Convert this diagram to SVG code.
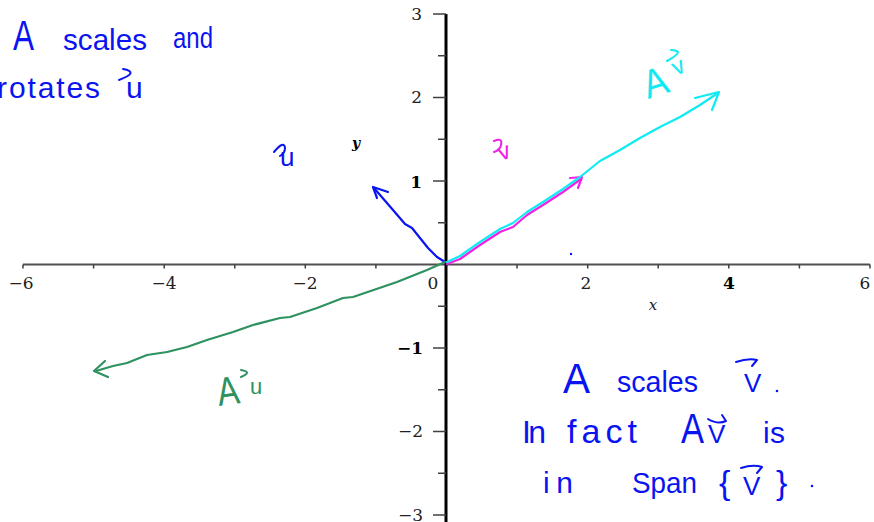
<svg xmlns="http://www.w3.org/2000/svg" width="874" height="522" viewBox="0 0 874 522">
<style>
.bg{fill:#ffffff}
.xaxis{stroke:#505050;stroke-width:2;fill:none}
.yaxis{stroke:#000000;stroke-width:3;fill:none}
.tick{stroke:#404040;stroke-width:1.5;fill:none}
.tl{font-family:"DejaVu Serif","Liberation Serif",serif;font-size:17px;fill:#202020}
.tlb{font-family:"DejaVu Serif","Liberation Serif",serif;font-size:17px;font-weight:bold;fill:#000}
.ax{font-family:"DejaVu Serif","Liberation Serif",serif;font-style:italic;font-size:15px;fill:#202020}
.vec{fill:none;stroke-width:2.2;stroke-linecap:round;stroke-linejoin:round}
.blue{stroke:#0a14f0}
.mag{stroke:#f020e6}
.cyan{stroke:#10eaf2}
.green{stroke:#2e9160}
.hw{font-family:"Liberation Sans","DejaVu Sans",sans-serif;font-weight:normal}
.hb{fill:#0a14f0}
.hc{fill:#10eaf2}
.hm{fill:#f020e6}
.hg{fill:#2e9160}
.hook{fill:none;stroke-width:2;stroke-linecap:round;stroke-linejoin:round}
</style>
<rect class="bg" x="0" y="0" width="874" height="522"/>
<g id="axes">
  <line class="xaxis" x1="23" y1="264.5" x2="870" y2="264.5"/>
  <line class="yaxis" x1="446" y1="14" x2="446" y2="522"/>
  <path class="tick" d="M23,264.5v4 M93.6,264.5v4 M164.2,264.5v4 M234.8,264.5v4 M305.3,264.5v4 M375.9,264.5v4 M517,264.5v4 M587.7,264.5v4 M658.2,264.5v4 M728.8,264.5v4 M799.4,264.5v4 M870,264.5v4"/>
  <path class="tick" d="M433,14h13 M438,55.75h8 M433,97.5h13 M438,139.25h8 M433,181h13 M438,222.75h8 M438,306.25h8 M433,348h13 M438,389.75h8 M433,431.5h13 M438,473.25h8 M433,515h13"/>
  <text class="tl" x="21" y="289" text-anchor="middle">−6</text>
  <text class="tl" x="164" y="289" text-anchor="middle">−4</text>
  <text class="tl" x="305" y="289" text-anchor="middle">−2</text>
  <text class="tl" x="433" y="289" text-anchor="middle">0</text>
  <text class="tl" x="586" y="289" text-anchor="middle">2</text>
  <text class="tlb" x="729" y="289" text-anchor="middle">4</text>
  <text class="tl" x="865" y="289" text-anchor="middle">6</text>
  <text class="ax" x="653" y="310" text-anchor="middle">x</text>
  <text class="tl" x="422" y="20" text-anchor="end">3</text>
  <text class="tl" x="422" y="103" text-anchor="end">2</text>
  <text class="tlb" x="422" y="188" text-anchor="end">1</text>
  <text class="tlb" x="423" y="354" text-anchor="end">−1</text>
  <text class="tl" x="423" y="437" text-anchor="end">−2</text>
  <text class="tl" x="423" y="521" text-anchor="end">−3</text>
  <text x="352" y="148" style="font-family:'DejaVu Serif',serif;font-style:italic;font-weight:bold;font-size:14px;fill:#000">y</text>
</g>
<g id="connectors">
  <g id="vec-u">
    <path class="vec blue" d="M445,262 L437,257 L428,248 L412,228 L405,224 L393,210 L374,188"/>
    <path class="vec blue" d="M388,192 L373,187 L377,198"/>
  </g>
  <g id="vec-v">
    <path class="vec mag" d="M447,264 L460,259 L480,245 L500,232 L513,227 L527,215 L543,205 L563,192 L581,179"/>
    <path class="vec mag" d="M570,178 L582,177 L578,188"/>
  </g>
  <g id="vec-Av">
    <path class="vec cyan" d="M447,262 L460,256 L480,242 L500,229 L513,223 L527,212 L543,202 L563,189 L580,177 L600,161 L620,150 L640,138 L660,127 L680,117 L700,105 L718,93"/>
    <path class="vec cyan" d="M695,98 L719,92 L712,110"/>
  </g>
  <g id="vec-Au">
    <path class="vec green" d="M445,262 L427,270 L397,282 L353,297 L343,298 L317,308 L290,317 L280,318 L253,325 L233,332 L207,340 L187,347 L167,352 L147,355 L127,363 L113,366 L96,371"/>
    <path class="vec green" d="M105,361 L94,371 L108,377"/>
  </g>
</g>
<g id="label-topleft">
  <text class="hw hb" x="13" y="50" font-size="42" textLength="21" lengthAdjust="spacingAndGlyphs">A</text>
  <text class="hw hb" x="63" y="50" font-size="30" textLength="84" lengthAdjust="spacingAndGlyphs">scales</text>
  <text class="hw hb" x="173" y="48" font-size="30" textLength="40" lengthAdjust="spacingAndGlyphs">and</text>
  <text class="hw hb" x="-3" y="98" font-size="30" textLength="103" lengthAdjust="spacing">rotates</text>
  <text class="hw hb" x="126" y="98" font-size="30">u</text>
  <path class="hook blue" d="M123,69 Q140,72 119,80"/>
</g>
<g id="label-u">
  <text class="hw hb" x="280" y="166" font-size="26">u</text>
  <path class="hook blue" d="M274,152 Q284,140 285,148 Q285,153 280,156"/>
</g>
<g id="label-v">
  <text class="hw hm" x="0" y="0" font-size="24" transform="translate(501,161) rotate(-20)">v</text>
  <path class="hook mag" d="M494,141 Q503,137 501,145 Q500,150 494,152"/>
</g>
<g id="label-Av">
  <text class="hw hc" x="0" y="0" font-size="40" textLength="24" lengthAdjust="spacingAndGlyphs" transform="translate(648,99) rotate(-18)">A</text>
  <text class="hw hc" x="0" y="0" font-size="24" transform="translate(676,76) rotate(-25)">v</text>
  <path class="hook cyan" d="M667,61 Q678,55 678,52 Q676,50 671,50"/>
</g>
<g id="label-Au">
  <text class="hw hg" x="0" y="0" font-size="40" textLength="22" lengthAdjust="spacingAndGlyphs" transform="translate(219,406) rotate(-8)">A</text>
  <text class="hw hg" x="250" y="394" font-size="22">u</text>
  <path class="hook green" d="M241,370 Q253,372 241,377"/>
</g>
<g id="label-bottomright">
  <text class="hw hb" x="563" y="393" font-size="42" textLength="27" lengthAdjust="spacingAndGlyphs">A</text>
  <text class="hw hb" x="617" y="392" font-size="30" textLength="81" lengthAdjust="spacingAndGlyphs">scales</text>
  <text class="hw hb" x="744" y="392" font-size="26">V</text>
  <path class="hook blue" d="M736,362 Q748,358 757,360 L752,366"/>
  <circle cx="777" cy="391" r="1.3" fill="#0a14f0"/>
  <text class="hw hb" x="522" y="443" font-size="32" textLength="24" lengthAdjust="spacing">In</text>
  <text class="hw hb" x="567" y="443" font-size="34" textLength="70" lengthAdjust="spacing">fact</text>
  <text class="hw hb" x="681" y="443" font-size="42" textLength="23" lengthAdjust="spacingAndGlyphs">A</text>
  <text class="hw hb" x="708" y="443" font-size="26">V</text>
  <path class="hook blue" d="M708,419 Q718,425 726,421 L722,415"/>
  <text class="hw hb" x="763" y="443" font-size="30" textLength="22" lengthAdjust="spacing">is</text>
  <text class="hw hb" x="543" y="493" font-size="30" textLength="30" lengthAdjust="spacing">in</text>
  <text class="hw hb" x="632" y="493" font-size="30" textLength="65" lengthAdjust="spacingAndGlyphs">Span</text>
  <text class="hw hb" x="719" y="494" font-size="34">{</text>
  <text class="hw hb" x="743" y="495" font-size="26">V</text>
  <path class="hook blue" d="M741,468 Q753,464 762,467 L757,473"/>
  <text class="hw hb" x="776" y="494" font-size="34">}</text>
  <circle cx="812" cy="486" r="1.3" fill="#0a14f0"/>
  <circle cx="571" cy="254" r="1.2" fill="#0a14f0"/>
</g>
</svg>
